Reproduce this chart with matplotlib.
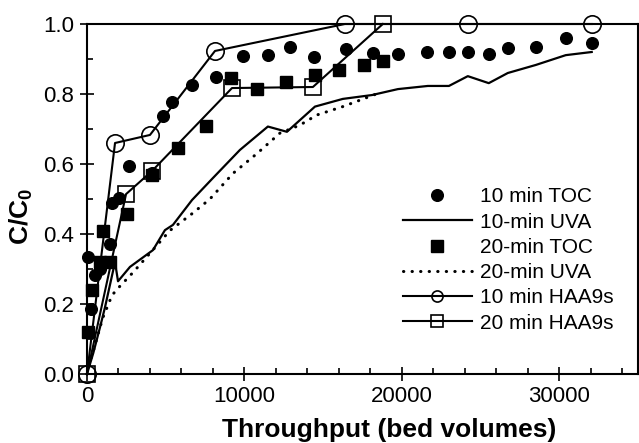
import matplotlib
matplotlib.use("Agg")
import matplotlib.pyplot as plt
import matplotlib.ticker as mticker

plt.rcParams["font.family"] = ["Liberation Sans", "DejaVu Sans"]
plt.rcParams["mathtext.fontset"] = "custom"
plt.rcParams["mathtext.rm"] = "Liberation Sans"
plt.rcParams["mathtext.bf"] = "Liberation Sans:bold"

# ── data ────────────────────────────────────────────────────
toc10_x = [60, 250, 510, 800, 1460, 1590, 2030, 2670, 4130, 4830, 5400, 6670,
           8190, 9900, 11500, 12890, 14410, 16440, 18160, 19750, 21590, 22990,
           24190, 25520, 26730, 28510, 30410, 32060]
toc10_y = [0.335, 0.185, 0.283, 0.30, 0.372, 0.49, 0.503, 0.594, 0.574, 0.737,
           0.777, 0.826, 0.848, 0.909, 0.911, 0.935, 0.906, 0.928, 0.916, 0.913,
           0.92, 0.92, 0.92, 0.913, 0.932, 0.935, 0.96, 0.946]

toc20_x = [60, 300, 830, 1000, 1460, 2540, 4130, 5780, 7550, 9140, 10790,
           12630, 14480, 16000, 17590, 18790]
toc20_y = [0.12, 0.24, 0.32, 0.41, 0.32, 0.457, 0.568, 0.645, 0.71, 0.846,
           0.813, 0.835, 0.854, 0.868, 0.884, 0.893]

uva10_x = [0, 400, 830, 1140, 1780, 1970, 2730, 4190, 4950, 5460, 6670, 8000,
           9710, 11490, 12700, 14480, 16250, 18100, 19750, 21650, 22990, 24190,
           25520, 26730, 28510, 30410, 32060]
uva10_y = [0.0, 0.06, 0.134, 0.19, 0.32, 0.265, 0.306, 0.354, 0.411, 0.426,
           0.497, 0.56, 0.64, 0.707, 0.692, 0.764, 0.786, 0.797, 0.814, 0.823,
           0.823, 0.851, 0.831, 0.86, 0.883, 0.911, 0.92]

uva20_x = [0, 300, 1000, 1590, 1970, 2920, 4000, 5270, 6730, 7810, 9270, 10800,
           12250, 13520, 14600, 16250, 18730]
uva20_y = [0.0, 0.05, 0.16, 0.225, 0.245, 0.29, 0.345, 0.41, 0.46, 0.50, 0.573,
           0.63, 0.688, 0.711, 0.74, 0.764, 0.806]

haa10_x = [0, 1780, 4000, 8130, 16380, 24190, 32060]
haa10_y = [0.0, 0.66, 0.683, 0.923, 1.0, 1.0, 1.0]

haa20_x = [0, 2480, 4130, 9210, 14350, 18790]
haa20_y = [0.0, 0.514, 0.58, 0.817, 0.82, 1.0]

fig = plt.figure(figsize=(6.39, 4.43), dpi=100)
ax = fig.add_axes([87 / 639, 69 / 443, 551 / 639, 350 / 443])

ax.plot(toc10_x, toc10_y, "o", color="black", markersize=8.4, linestyle="none",
        clip_on=False, label="10 min TOC")
ax.plot(uva10_x, uva10_y, "-", color="black", linewidth=1.6, clip_on=False,
        label="10-min UVA")
ax.plot(toc20_x, toc20_y, "s", color="black", markersize=8.2, linestyle="none",
        clip_on=False, label="20-min TOC")
ax.plot(uva20_x, uva20_y, color="black", linewidth=2.2, linestyle=(0, (0.1, 2.7)),
        dash_capstyle="round", clip_on=False, label="20-min UVA")
ax.plot(haa10_x, haa10_y, "-o", color="black", linewidth=1.5, markersize=12.5,
        fillstyle="none", markeredgewidth=1.2, clip_on=False, label="10 min HAA9s")
ax.plot(haa20_x, haa20_y, "-s", color="black", linewidth=1.5, markersize=11.5,
        fillstyle="none", markeredgewidth=1.2, clip_on=False, label="20 min HAA9s")

ax.set_xlim(0, 35000)
ax.set_ylim(0, 1.0)
ax.xaxis.set_major_locator(mticker.MultipleLocator(10000))
ax.xaxis.set_minor_locator(mticker.MultipleLocator(2000))
ax.yaxis.set_major_locator(mticker.MultipleLocator(0.2))
ax.yaxis.set_minor_locator(mticker.MultipleLocator(0.1))
ax.yaxis.set_major_formatter(mticker.FormatStrFormatter("%.1f"))

ax.tick_params(which="major", direction="inout", length=10, width=1.2,
               labelsize=16, pad=4)
ax.tick_params(which="minor", direction="in", length=4.5, width=1.2)
for sp in ax.spines.values():
    sp.set_linewidth(1.5)

ax.set_xlabel("Throughput (bed volumes)", fontsize=19, fontweight="bold")
ax.xaxis.set_label_coords((389 - 87) / 551, -0.125)
ax.set_ylabel(r"$\mathbf{C/C_0}$", fontsize=19)
ax.yaxis.set_label_coords(-0.095, 0.45)

leg = ax.legend(loc="upper left", bbox_to_anchor=(403 / 639, 0.577),
                bbox_transform=fig.transFigure, frameon=False, fontsize=15,
                handlelength=3.3, handletextpad=0.4, labelspacing=0.3,
                borderpad=0, borderaxespad=0)
for h in leg.legend_handles[4:]:
    h.set_markersize(8)

fig.savefig("out.png", dpi=100)
